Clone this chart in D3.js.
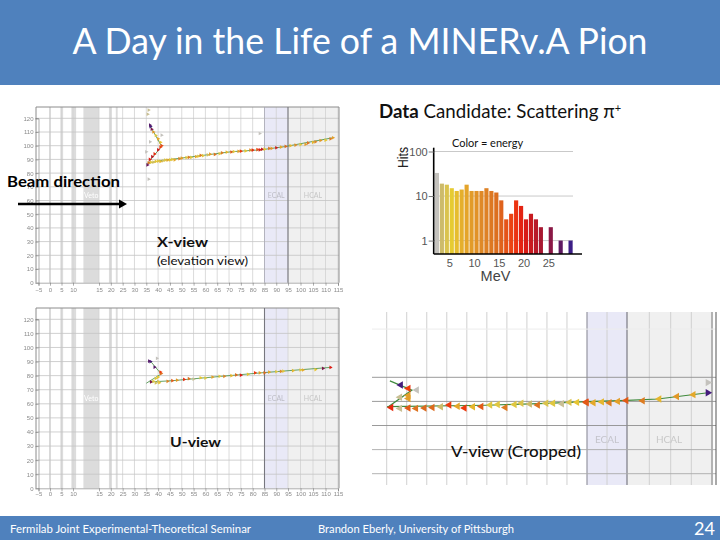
<!DOCTYPE html>
<html>
<head>
<meta charset="utf-8">
<script src="https://cdn.jsdelivr.net/npm/d3@7"></script>
<style>
  html, body { margin: 0; padding: 0; background: #fff; }
  text { font-family: Lato, "Open Sans", sans-serif; }
  .small-axis text { font-family: "Liberation Sans", sans-serif; font-size: 6px; fill: #8a8a8a; }
  .hist-axis text { font-family: "Liberation Sans", sans-serif; font-size: 11px; fill: #555; }
</style>
</head>
<body>
<div id="slide"></div>
<script>
// Slide: MINERvA event display with three detector views and a hit energy histogram

const width = 720;
const height = 540;

// detector axis ticks (horizontal axis squeezes the -5..15 part)
const zTicks = [-5,0,5,10,15,20,25,30,35,40,45,50,55,60,65,70,75,80,85,90,95,100,105,110,115];
const yTicks = [0,10,20,30,40,50,60,70,80,90,100,110,120];

// passive targets, in detector units
const targetBands = [[-0.4,0.4],[4.5,5.7],[9.3,10.6],[12,15],[19.2,20.4],[22.1,22.9]];
const ecalBand = [85,95];
const hcalBand = [95,115.3];

// histogram: energy bin centres and hits
const energyBins = [2.5,3.5,4.5,5.5,6.5,7.5,8.5,9.5,10.5,11.5,12.5,13.5,14.5,15.5,16.5,17.5,18.5,19.5,20.5,21.5,22.5,23.5,25.5,27.5,29.5];
const energyHits = [33,19,18,15,13,14,18,13,13,13,15,13,12,8,3,4,8,6,3,4,3,2,2,1,1];
const histTicksX = [5,10,15,20,25];
const histTicksY = [1,10,100];

// energy to colour stops
const colourStops = [2.5,3.5,5.5,8,12,15,18,20,23,25.5,27.5,29.5];
const colourValues = ["#c4c2bd","#cdbb6a","#e6cb32","#e5a82a","#de8526","#dc6a1e","#ee3b10","#e01b12","#b0182c","#8a1846","#5e1a62","#3c1e86"];

// hits, [z, position, energy]
const xViewHits = [[36,87.5,14],[37,88,5],[38,88,4],[39,88.5,6],[40,88.8,5],[41,88.5,7],[42,89,4],[43,89.5,5],[44,89.5,8],[45,89.6,6],[46,90,5],[47,89.7,8],[49,90.5,12],[50,91,9],[52,91.3,5],[53,91.5,13],[54,91.4,5],[56,92,8],[57,92.3,6],[58,93,13],[59,92.7,5],[61,93.3,4],[62,93.8,9],[64,93.6,14],[66,94.2,5],[67,94.8,13],[69,95.3,7],[71,95.4,16],[72,95.7,5],[74,95.9,9],[75,96,18],[77,96.2,6],[79,96.8,11],[80,96.8,19],[82,97.2,17],[83,97,20],[84,97.4,22],[85,97.5,6],[87,98,14],[88,98,10],[90,98.5,21],[92,99,8],[94,99.5,15],[96,100,7],[98,100.5,11],[100,100.8,5],[102,101,9],[103,102,14],[105,102.5,7],[106,102.8,12],[108,103.8,10],[110,104,6],[112,105,13],[113,105.8,9],
  [36.5,90,20],[37.5,92,22],[38.5,94,19],[40,97,21],[41,99,18],[41.5,100,17],[41,102.5,6],[40,105,8],[39,107.5,5],[38,110,10],[37.3,112,26],[36.8,114,29],[36.6,115,28],[35.5,86,27],
  [36,126,3],[35.6,123,3],[41.5,107.7,2.5],[36.6,102.8,2.5],[35,95.5,2.5],[36,75.6,2.5],[83,108.9,2.5]];
const xViewTrack = [[[35.5,87],[40.7,89],[57,92.5],[71,95.6],[83.5,97],[93.5,99.3],[113,105.8]], [[35.5,87],[41.5,99.6],[36.7,114.2]]];

const uViewHits = [[37,75.5,26],[38,76,5],[39,74.8,4],[40,76,3.5],[40.5,75,6],[44,76,12],[46,76.4,16],[48,76.8,10],[51,77.3,19],[53,77.8,14],[55,77.5,3],[58,78.5,6],[60,78.3,5],[63,79,9],[66,79.5,5],[68,79.5,12],[71,80,7],[73,80.5,15],[75,80.3,20],[78,80.9,6],[81,82,18],[83,82,9],[85,82,15],[87,82.5,8],[90,82.8,5],[92,83,11],[93,83.2,5],[97,83.5,7],[100,84,6],[101,84,8],[106,84.3,6],[109,85.1,26],[112,85.8,20],
  [41.3,81.5,14],[41,82.5,18],[40,79,6],[39,78,5],[38.5,86,28],[36.8,90,29],[36.2,90.3,28],[39.5,92.3,2.5]];
const uViewTrack = [[[36.5,75.5],[46,76.4],[60,78.5],[83.7,82],[95,83.5],[112.4,85.9]], [[35,74.6],[41.3,81.2],[36.6,90.6]]];

const vViewHits = [[36.1,77.5,19],[38.3,77.1,3],[40.4,77.3,16],[42.3,77.1,14],[44.4,77.3,15],[46.4,77.5,15],[48.5,77.8,3.5],[50.6,78.5,18],[52.7,78,8],[54.4,77.3,18],[56.5,77.8,7],[58.6,77.9,16],[60.8,78.5,5],[62.7,78.7,5],[64.6,77.5,13],[66.9,78.7,5],[68.6,79.2,4.5],[70.7,78.9,3.5],[72.7,78.5,14],[74.8,79.2,4.5],
  [76.5,79.2,5],[78.7,79,3],[80.6,79.6,4.5],[82.5,79.6,6],[84.8,79.8,17],[84.9,79.4,16],[86.6,79.4,8],[88.7,79.8,7],[90.6,79.4,13],[92.7,80,9],[94.8,80.4,16],[98.5,80.3,13],[102.3,81,7],[106.5,82,10],[110.5,82.8,8],[114,83.6,29],
  [38.5,86.8,29],[40.4,85.4,18],[42.5,84.7,2.5],[40.4,81.2,9],[40.4,82.5,9],[38.3,81.7,3],[114,87.8,2.5]];
const vViewTrack = [[[35.1,77.8],[60,78.4],[75,79.2],[85,79.9],[95,80.4],[102,81],[114,83.6]], [[35.4,77.75],[41.3,84.7],[35.8,88.5]]];
const vGrid = [50,60,70,80,90];
const vColumns = [35,40,45,50,55,60,65,70,75,80,85,90,95,100,105,110,115];

const svg = d3.select("#slide").append("svg")
  .attr("width", width)
  .attr("height", height)
  .style("display", "block");

// the original is a soft low res screenshot
const soft = svg.append("defs").append("filter").attr("id", "soft");
soft.append("feGaussianBlur").attr("stdDeviation", 0.4);

const energyColour = d3.scaleLinear().domain(colourStops).range(colourValues).clamp(true);
const line = d3.line();

function addCalorimeters(g, x, top, bottom) {
  g.append("rect").attr("x", x(ecalBand[0])).attr("width", x(ecalBand[1]) - x(ecalBand[0]))
    .attr("y", top).attr("height", bottom - top).attr("fill", "#e9e9f7");
  g.append("rect").attr("x", x(hcalBand[0])).attr("width", x(hcalBand[1]) - x(hcalBand[0]))
    .attr("y", top).attr("height", bottom - top).attr("fill", "#f0f0f0");
}

function addHits(g, view, x, y, hits, track, size) {
  g.selectAll(".track").data(track).enter().append("path")
    .attr("class", "track")
    .attr("d", d => line(d.map(p => [x(p[0]), y(p[1])])))
    .attr("fill", "none")
    .attr("stroke", "#3f8a3c")
    .attr("stroke-width", view === "v" ? 1.2 : 0.8);
  g.selectAll(".hit").data(hits).enter().append("path")
    .attr("class", "hit")
    .attr("d", d3.symbol(d3.symbolTriangle, size))
    .attr("transform", d => `translate(${x(d[0])},${y(d[1])}) rotate(${view === "v" && d[0] < 114 ? -90 : 90})`)
    .attr("fill", d => energyColour(d[2]));
}

// one of the two full views: frame, grid, axes, hits
function fullView(view, hits, track, top, y0, y120, labelY) {
  const left = 36, right = 339;
  const g = svg.append("g").attr("filter", "url(#soft)");

  const x = d3.scaleLinear().domain([-5,10,15,85,95,115]).range([38.5,73,99,264.5,288,338]);
  const y = d3.scaleLinear().domain([0,120]).range([y0,y120]);

  g.selectAll(".target").data(targetBands).enter().append("rect")
    .attr("class", "target")
    .attr("x", d => x(d[0]))
    .attr("width", d => x(d[1]) - x(d[0]))
    .attr("y", top).attr("height", y0 - top)
    .attr("fill", "#dcdcdc");
  addCalorimeters(g, x, top, y0);

  // grid
  g.selectAll(".vgrid").data(zTicks.slice(1)).enter().append("line")
    .attr("x1", d => x(d)).attr("x2", d => x(d))
    .attr("y1", top).attr("y2", y0)
    .attr("stroke", "#d2d2d2").attr("stroke-width", 0.8);
  g.selectAll(".hgrid").data(yTicks.slice(1)).enter().append("line")
    .attr("x1", left).attr("x2", right)
    .attr("y1", d => y(d)).attr("y2", d => y(d))
    .attr("stroke", "#c4c4c4").attr("stroke-width", 0.8);

  // frame
  g.append("path")
    .attr("d", `M${left},${y0}V${top}H${right}V${y0}`)
    .attr("fill", "none").attr("stroke", "#8c8c8c").attr("stroke-width", 1);

  // axes
  const ax = g.append("g").attr("class", "small-axis")
    .attr("transform", `translate(0,${y0})`)
    .call(d3.axisBottom(x).tickValues(zTicks).tickSize(3).tickPadding(labelY));
  const ay = g.append("g").attr("class", "small-axis")
    .attr("transform", `translate(${x(-5)},0)`)
    .call(d3.axisLeft(y).tickValues(yTicks).tickSize(3).tickPadding(2));
  ax.selectAll("path,line").attr("stroke", "#777").attr("stroke-width", 0.6);
  ay.selectAll("path,line").attr("stroke", "#777").attr("stroke-width", 0.6);

  // calorimeter divider
  g.append("line")
    .attr("x1", x(view === "x" ? 95 : 85)).attr("x2", x(view === "x" ? 95 : 85))
    .attr("y1", top).attr("y2", y0)
    .attr("stroke", "#77777f").attr("stroke-width", 1.1);
  if (view === "x") {
    g.append("line").attr("x1", x(85)).attr("x2", x(85)).attr("y1", top).attr("y2", y0)
      .attr("stroke", "#a9a9b8").attr("stroke-width", 0.8);
  }

  // detector region names
  const names = g.append("g").attr("font-size", 7).attr("text-anchor", "middle");
  names.append("text").attr("x", x(13.5)).attr("y", y(64) + 2.5).attr("fill", "#fff").text("Veto");
  names.append("text").attr("x", x(90)).attr("y", y(64) + 2.5).attr("fill", "#bdbdc6").text("ECAL");
  names.append("text").attr("x", x(105)).attr("y", y(64) + 2.5).attr("fill", "#c6c6c6").text("HCAL");

  addHits(g, view, x, y, hits, track, 6);
}

fullView("x", xViewHits, xViewTrack, 107, 282.7, 118.3, 2);
fullView("u", uViewHits, uViewTrack, 308, 488.3, 319.3, 0);

// cropped V view
const vg = svg.append("g").attr("filter", "url(#soft)");
const xV = d3.scaleLinear().domain([35,85,95,100,105,110,115]).range([386.7,587,627,649.3,670.7,691.3,712]);
const yV = d3.scaleLinear().domain([50,90]).range([473.7,377.3]);
const vTop = 312, vBottom = 485;

addCalorimeters(vg, xV, vTop, vBottom);
vg.selectAll(".vcol").data(vColumns).enter().append("line")
  .attr("x1", d => xV(d)).attr("x2", d => xV(d))
  .attr("y1", vTop).attr("y2", vBottom)
  .attr("stroke", d => d === 85 ? "#8d8d99" : d === 95 ? "#70707a" : d === 115 ? "#777" : "#d0d0d0")
  .attr("stroke-width", d => d === 95 || d === 85 ? 1.1 : 1);
vg.selectAll(".vrow").data(vGrid).enter().append("line")
  .attr("x1", 372).attr("x2", 716)
  .attr("y1", d => yV(d)).attr("y2", d => yV(d))
  .attr("stroke", d => d >= 70 ? "#8f8f8f" : "#aaaaaa").attr("stroke-width", 0.9);
vg.append("line").attr("x1", 372).attr("x2", 716).attr("y1", yV(110)).attr("y2", yV(110))
  .attr("stroke", "#ececec");
vg.append("line").attr("x1", 716).attr("x2", 716).attr("y1", vTop).attr("y2", vBottom)
  .attr("stroke", "#555").attr("stroke-width", 1);
vg.append("text").attr("x", 607).attr("y", 443).attr("font-size", 10).attr("text-anchor", "middle")
  .attr("fill", "#c4c4cc").text("ECAL");
vg.append("text").attr("x", 669).attr("y", 443).attr("font-size", 10).attr("text-anchor", "middle")
  .attr("fill", "#c8c8c8").text("HCAL");
addHits(vg, "v", xV, yV, vViewHits, vViewTrack, 24);

/*

  Energy histogram

*/
const xHist = d3.scaleLinear().domain([5,25]).range([449.3,548.3]);
const yHist = d3.scaleLog().domain([0.5,100]).range([254,151.5]);

svg.selectAll(".hist-grid").data(histTicksY).enter().append("line")
  .attr("class", "hist-grid")
  .attr("x1", 434).attr("x2", 573)
  .attr("y1", d => yHist(d)).attr("y2", d => yHist(d))
  .attr("stroke", "#c9c9c9");

svg.selectAll(".bar").data(energyBins).enter().append("rect")
  .attr("class", "bar")
  .attr("x", d => xHist(d - 0.5) + 0.4)
  .attr("width", xHist(1) - xHist(0) - 0.8)
  .attr("y", (d, i) => yHist(energyHits[i]))
  .attr("height", (d, i) => yHist(0.5) - yHist(energyHits[i]))
  .attr("fill", d => energyColour(d));

const histX = svg.append("g").attr("class", "hist-axis")
  .attr("transform", "translate(0,254)")
  .call(d3.axisBottom(xHist).tickValues(histTicksX).tickSize(0).tickPadding(5));
histX.select(".domain").attr("d", "M433.7,0H582").attr("stroke", "#000").attr("stroke-width", 1.6);

const histY = svg.append("g").attr("class", "hist-axis")
  .attr("transform", "translate(433.7,0)")
  .call(d3.axisLeft(yHist).tickValues(histTicksY).tickFormat(d3.format("d")).tickSize(5).tickPadding(1));
histY.select(".domain").attr("d", "M0,147.7V254").attr("stroke", "#000").attr("stroke-width", 1.6);
histY.selectAll(".tick line").attr("stroke", "#777");

svg.append("text").attr("transform", "translate(407.5,168) rotate(-90)")
  .style("font-family", "Liberation Sans").attr("font-size", 15).attr("fill", "#222")
  .attr("textLength", 21).attr("lengthAdjust", "spacingAndGlyphs").text("Hits");
svg.append("text").attr("x", 495.5).attr("y", 281).attr("text-anchor", "middle")
  .style("font-family", "Liberation Sans").attr("font-size", 14.5).attr("fill", "#444").text("MeV");
svg.append("text").attr("x", 452).attr("y", 147).attr("font-size", 11).attr("fill", "#111").text("Color = energy");

const heading = svg.append("text").attr("x", 379).attr("y", 118).attr("font-size", 18.7).attr("fill", "#111");
heading.append("tspan").attr("font-weight", "bold").text("Data");
heading.append("tspan").text(" Candidate: Scattering π");
heading.append("tspan").attr("font-size", 11).attr("dy", -6).text("+");

/*

  Slide annotations

*/
svg.append("text").attr("x", 7).attr("y", 187).attr("font-size", 15).attr("font-weight", "bold").attr("fill", "#000")
  .attr("textLength", 113).attr("lengthAdjust", "spacingAndGlyphs").text("Beam direction");
svg.append("line").attr("x1", 18).attr("x2", 120).attr("y1", 204).attr("y2", 204).attr("stroke", "#000").attr("stroke-width", 2.4);
svg.append("path").attr("d", "M119,199.5L127,204L119,208.5Z").attr("fill", "#000");

svg.append("text").attr("x", 157).attr("y", 247).attr("font-size", 14).attr("font-weight", "bold").attr("fill", "#111")
  .attr("textLength", 51).attr("lengthAdjust", "spacingAndGlyphs").text("X-view");
svg.append("text").attr("x", 157).attr("y", 265).attr("font-size", 12).attr("fill", "#111")
  .attr("textLength", 91).attr("lengthAdjust", "spacingAndGlyphs").text("(elevation view)");
svg.append("text").attr("x", 170).attr("y", 447).attr("font-size", 14).attr("font-weight", "bold").attr("fill", "#111")
  .attr("textLength", 51).attr("lengthAdjust", "spacingAndGlyphs").text("U-view");
svg.append("text").attr("x", 451).attr("y", 457).attr("font-size", 14.5).attr("fill", "#111").attr("font-weight", "500")
  .attr("textLength", 130).attr("lengthAdjust", "spacingAndGlyphs").text("V-view (Cropped)");

/*

  Title and footer bands

*/
svg.append("rect").attr("width", width).attr("height", 85).attr("fill", "#4f81bd");
svg.append("text").attr("x", 360).attr("y", 54).attr("text-anchor", "middle")
  .attr("font-size", 36).attr("fill", "#fff")
  .attr("textLength", 575).attr("lengthAdjust", "spacingAndGlyphs")
  .text("A Day in the Life of a MINERv.A Pion");

svg.append("rect").attr("y", 516).attr("width", width).attr("height", 24).attr("fill", "#4f81bd");
svg.append("text").attr("x", 10).attr("y", 533).attr("font-size", 12).attr("fill", "#fff")
  .attr("textLength", 241).attr("lengthAdjust", "spacingAndGlyphs")
  .text("Fermilab Joint Experimental-Theoretical Seminar");
svg.append("text").attr("x", 318).attr("y", 533).attr("font-size", 12).attr("fill", "#fff")
  .attr("textLength", 196).attr("lengthAdjust", "spacingAndGlyphs")
  .text("Brandon Eberly, University of Pittsburgh");
svg.append("text").attr("x", 694).attr("y", 535).attr("font-size", 18).attr("fill", "#fff").text("24");
</script>
</body>
</html>
